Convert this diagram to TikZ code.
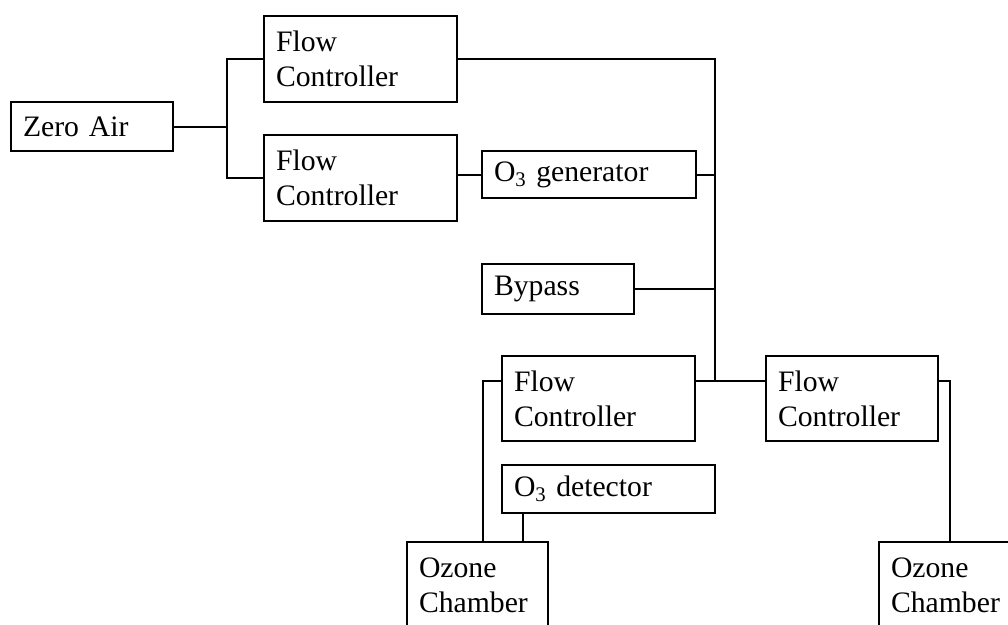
\documentclass[tikz,border=0pt]{standalone}
\usepackage{fontspec}
\setmainfont{Liberation Serif}
\usetikzlibrary{calc}

\begin{document}
\begin{tikzpicture}[x=1pt,y=-1pt,line width=2pt,
    unit/.style={draw,inner sep=0pt,align=left,
      font=\fontsize{29.7}{35}\selectfont}]
              \clip (0,0) rectangle (1008,624);
              \useasboundingbox (0,0) rectangle (1008,624);

              \node[unit,minimum width=162pt,minimum height=49pt,text width=138pt] (air) at (92,126.5) {Zero Air};
              \node[unit,minimum width=193pt,minimum height=86pt,text width=169pt] (fcA) at (360.5,59) {Flow\\Controller};
              \node[unit,minimum width=193pt,minimum height=86pt,text width=169pt] (fcB) at (360.5,178) {Flow\\Controller};
              \node[unit,minimum width=214pt,minimum height=47pt,text width=190pt] (gen) at (589,174.5) {O\textsubscript{3} generator};
              \node[unit,minimum width=152pt,minimum height=50pt,text width=128pt] (bypass) at (558,289) {Bypass};
              \node[unit,minimum width=193pt,minimum height=85pt,text width=169pt] (fcC) at (598.5,398.5) {Flow\\Controller};
              \node[unit,minimum width=172pt,minimum height=85pt,text width=148pt] (fcD) at (852,398.5) {Flow\\Controller};
              \node[unit,minimum width=213pt,minimum height=48pt,text width=189pt] (det) at (608.5,489) {O\textsubscript{3} detector};
              \node[unit,minimum width=141pt,minimum height=86pt,text width=117pt] (chA) at (477.5,585) {Ozone\\Chamber};
              \node[unit,minimum width=141pt,minimum height=86pt,text width=117pt] (chB) at (949.5,585) {Ozone\\Chamber};

              \coordinate (split) at (227,126.5);
              \coordinate (hub) at (715,381);

              % zero air splits to the two controllers
              \draw (air.east) -- (split);
              \draw (fcA.west) -| (split) |- (fcB.west);

              % everything meets on the main line
              \draw (fcA.east) -| (hub);
              \draw (gen.west -| fcB.east) -- (gen.west);
              \draw (gen.east) -- (gen.east -| hub);
              \draw (bypass.east) -- (bypass.east -| hub);
              \draw (hub -| fcC.east) -- (hub -| fcD.west);

              % out to the chambers
              \draw (hub -| fcC.west) -| ([xshift=5.5pt]chA.north);
              \draw ([xshift=-85.5pt]det.south) -- ([xshift=-85.5pt]det.south |- chA.north);
              \draw (hub -| fcD.east) -| (chB.north);

            \end{tikzpicture}
\end{document}
